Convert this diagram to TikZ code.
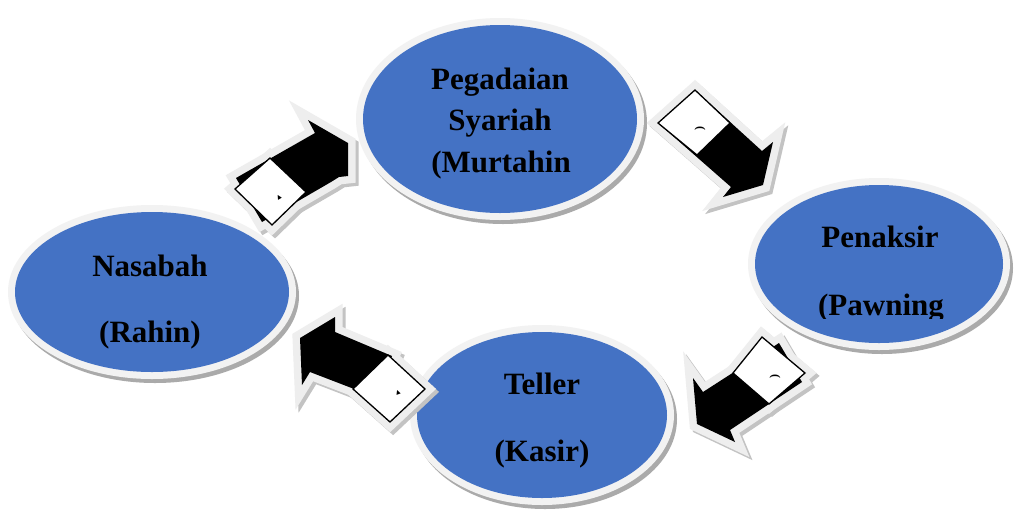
\documentclass[tikz,border=0pt]{standalone}
\usepackage{fontspec}
\setmainfont{Liberation Serif}
\newfontfamily\symfont{DejaVu Sans}
\usetikzlibrary{shapes.geometric}
\definecolor{blob}{RGB}{68,114,196}
\definecolor{ringc}{RGB}{242,242,242}
\definecolor{ellshadow}{RGB}{170,170,170}
\definecolor{glowc}{RGB}{238,238,238}
\definecolor{arrshadowc}{RGB}{195,195,195}
\newcommand\ellbg[4]{%
  \fill[ellshadow] (#1+3,#2+4) ellipse [x radius=#3pt+7pt, y radius=#4pt+7pt];
  \fill[ringc] (#1,#2) ellipse [x radius=#3pt+7pt, y radius=#4pt+7pt];}
\begin{document}
\begin{tikzpicture}[x=1pt,y=-1pt,
  blobnode/.style={ellipse, fill=blob, inner sep=0pt},
  lbl/.style={font=\bfseries\fontsize{31}{31}\selectfont, anchor=base, inner sep=0pt},
  arrshadow/.style={draw=arrshadowc, fill=arrshadowc, line width=15pt, line join=miter, miter limit=12},
  arrglow/.style={draw=glowc, fill=glowc, line width=15pt, line join=miter, miter limit=12},
  arrbody/.style={fill=black},
  tagbox/.style={fill=white, draw=black, line width=1.3pt, line join=miter},
  tagmark/.style={inner sep=0pt, font=\bfseries\fontsize{12}{12}\selectfont},
  tagtri/.style={inner sep=0pt, font=\symfont\fontsize{9}{9}\selectfont}]
\useasboundingbox[fill=white] (0,0) rectangle (1014,512);

% ---------- ellipses ----------
\ellbg{500}{119}{137}{94}
\node[blobnode, minimum width=274pt, minimum height=188pt] (peg) at (500,119) {};
\ellbg{152}{292}{137}{80}
\node[blobnode, minimum width=274pt, minimum height=160pt] (nas) at (152,292) {};
\ellbg{879}{264}{124}{79}
\node[blobnode, minimum width=248pt, minimum height=158pt] (pen) at (879,264) {};
\ellbg{542}{415}{125}{83}
\node[blobnode, minimum width=250pt, minimum height=166pt] (tel) at (542,415) {};

% ---------- labels ----------
\node[lbl] (pegA) at (500,89) {Pegadaian};
\node[lbl] (pegB) at (500,130) {Syariah};
\node[lbl] (pegC) at (501,172) {(Murtahin};
\node[lbl] (nasA) at (150,276) {Nasabah};
\node[lbl] (nasB) at (150,342) {(Rahin)};
\node[lbl] (penA) at (880,247) {Penaksir};
\begin{scope}
  \clip (740,250) rectangle (1014,318);
  \node[lbl] (penB) at (881,315) {(Pawning};
\end{scope}
\node[lbl] (telA) at (542,394) {Teller};
\node[lbl] (telB) at (542,461) {(Kasir)};

% ---------- arrow 1: Nasabah -> Pegadaian ----------
\def\arrA{(236,178) -- (315,133) -- (308,120) -- (348,143) -- (348,176) -- (339,177) -- (331,182) -- (262,222) -- cycle}
\def\tagA{(270,158) -- (306,192) -- (272,225) -- (235,189) -- cycle}
\path[arrshadow, shift={(3,3)}] \arrA;
\path[arrshadow, shift={(3,3)}] \tagA;
\path[arrglow] \arrA;
\path[arrglow] \tagA;
\path[arrbody] \arrA;
\path[tagbox] \tagA;
\node[tagtri, rotate=30] (mA) at (279,197) {▴};

% ---------- arrow 2: Pegadaian -> Penaksir ----------
\def\arrB{(695,90) -- (762,151) -- (773,142) -- (763,185) -- (723,197) -- (731,187) -- (658,123) -- cycle}
\def\tagB{(658,123) -- (695,90) -- (730,123) -- (697,155) -- cycle}
\path[arrshadow, shift={(3,3)}] \arrB;
\path[arrglow] \arrB;
\path[arrbody] \arrB;
\path[tagbox] \tagB;
\node[tagmark, rotate=-90] (mB) at (700,128) {(};

% ---------- arrow 3: Penaksir -> Teller ----------
\def\arrC{(779,343) -- (703,392) -- (693,378) -- (697,424) -- (735,442) -- (730,430) -- (802,382) -- cycle}
\def\tagC{(762,337) -- (805,373) -- (769,404) -- (733,373) -- cycle}
\path[arrshadow, shift={(3,3)}] \arrC;
\path[arrshadow, shift={(3,3)}] \tagC;
\path[arrglow] \arrC;
\path[arrglow] \tagC;
\path[arrbody] \arrC;
\path[tagbox] \tagC;
\node[tagmark, rotate=-90] (mC) at (775,376) {(};

% ---------- arrow 4: Teller -> Nasabah ----------
\def\arrD{(392,356) -- (335,332) -- (335,317) -- (300,338) -- (302,385) -- (310,372) -- (375,397) -- cycle}
\def\tagD{(388,355) -- (425,389) -- (390,422) -- (353,389) -- cycle}
\path[arrshadow, shift={(3,3)}] \arrD;
\path[arrshadow, shift={(3,3)}] \tagD;
\path[arrglow] \arrD;
\path[arrglow] \tagD;
\path[arrbody] \arrD;
\path[tagbox] \tagD;
\node[tagtri, rotate=20] (mD) at (398,393) {▴};
\end{tikzpicture}
\end{document}
